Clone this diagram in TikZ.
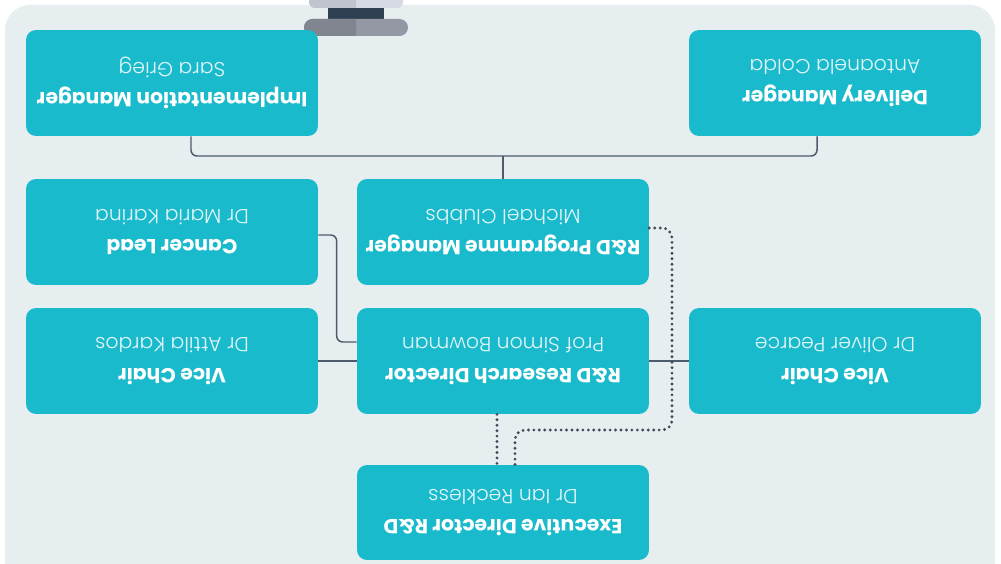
\documentclass[tikz,border=0pt]{standalone}
\usepackage{fontspec}
\setmainfont{Poppins}
\newfontfamily\namefont{Poppins Light}
\usetikzlibrary{calc}

\definecolor{panelbg}{HTML}{E6EEF0}
\definecolor{boxcyan}{HTML}{19BACC}
\definecolor{linkgrey}{HTML}{4D5B6A}
\definecolor{dotgrey}{HTML}{3E4C5B}
\definecolor{namewhite}{HTML}{E2F6F9}
\definecolor{capdark}{HTML}{2F3E50}
\definecolor{capmidl}{HTML}{80858F}
\definecolor{capmidr}{HTML}{9498A5}
\definecolor{captopl}{HTML}{C0C4CD}
\definecolor{captopr}{HTML}{D6DAE2}

\newcommand{\who}[1]{{\namefont\color{namewhite}#1}}

\begin{document}
\begin{tikzpicture}[x=-0.02cm, y=0.02cm, rotate=180, transform shape,
	role/.style={rectangle, fill=boxcyan, rounded corners=0.2cm, minimum width=5.84cm,
		minimum height=2.12cm, align=center, text=white, font=\fontsize{11.6}{17.5}\selectfont},
	link/.style={draw=linkgrey, line width=0.85pt, rounded corners=0.12cm},
	dotlink/.style={draw=dotgrey, line width=1.8pt, line cap=round, dash pattern=on 0pt off 3.1pt, rounded corners=0.2cm}]

	\useasboundingbox (0,0) rectangle (1001,564);
	\clip (0,0) rectangle (1001,564);

	% panel
	\fill[panelbg, rounded corners=0.5cm] (5,5) rectangle (995,620);

	% clip holder on top
	\fill[captopr, rounded corners=0.12cm] (309,-10) rectangle (403,8);
	\fill[capdark] (328,8) rectangle (384,19);
	\fill[capmidr, rounded corners=0.17cm] (304,19) rectangle (408,36);
	\begin{scope}
		\clip (0,-10) rectangle (356,40);
		\fill[captopl, rounded corners=0.12cm] (309,-10) rectangle (403,8);
		\fill[capmidl, rounded corners=0.17cm] (304,19) rectangle (408,36);
	\end{scope}

	% roles
	\node[role] (impl) at (172,83) {\textbf{Implementation Manager}\\\who{Sara Grieg}};
	\node[role] (deliv) at (835,83) {\textbf{Delivery Manager}\\\who{Antoanela Colda}};
	\node[role] (cancer) at (172,232) {\textbf{Cancer Lead}\\\who{Dr Maria Karina}};
	\node[role] (progmgr) at (503,232) {\textbf{R\&D Programme Manager}\\\who{Michael Clubbs}};
	\node[role] (vicel) at (172,361) {\textbf{Vice Chair}\\\who{Dr Attila Kardos}};
	\node[role] (resdir) at (503,361) {\textbf{R\&D Research Director}\\\who{Prof Simon Bowman}};
	\node[role] (vicer) at (835,361) {\textbf{Vice Chair}\\\who{Dr Oliver Pearce}};
	\node[role, minimum height=1.9cm] (exec) at (503,512.5) {\textbf{Executive Director R\&D}\\\who{Dr Ian Reckless}};

	% solid links
	\coordinate (busl) at (191,156);
	\coordinate (busr) at (817,156);
	\draw[link] (impl.north -| busl) -- (busl) -- (busr) -- (deliv.north -| busr);
	\draw[link] (progmgr.south) -- (progmgr.south |- busl);
	\draw[link] ($(cancer.west)+(0,3)$) -| ($(resdir.east)+(-20,-19)$) -- ($(resdir.east)+(0,-19)$);
	\draw[link] (vicel.west) -- (resdir.east);
	\draw[link] (resdir.west) -- (vicer.east);

	% dotted links
	\draw[dotlink] ($(progmgr.west)+(0,-4)$) -| (672,430) -| ($(exec.south)+(12,0)$);
	\draw[dotlink] ($(resdir.north)+(-6,0)$) -- ($(exec.south)+(-6,0)$);

\end{tikzpicture}
\end{document}
